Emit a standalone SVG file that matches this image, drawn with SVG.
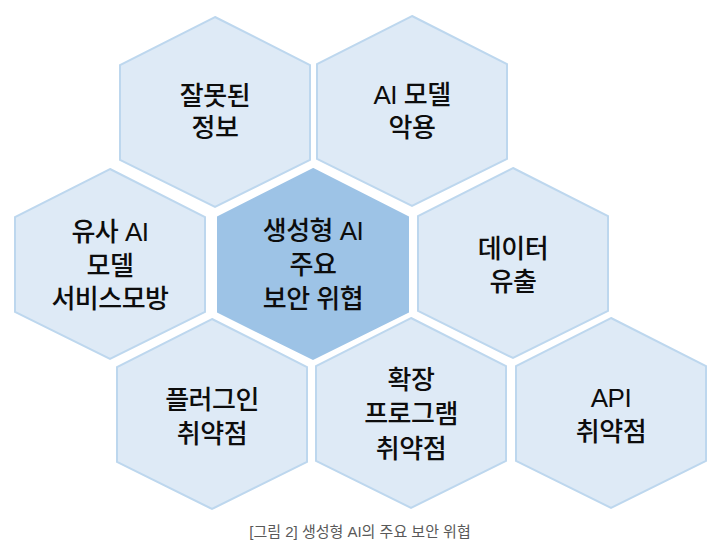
<svg xmlns="http://www.w3.org/2000/svg" xmlns:xlink="http://www.w3.org/1999/xlink" width="717" height="551" viewBox="0 0 717 551">
  <style>
    .hex { fill: #DEEAF6; stroke: #BDD7EE; stroke-width: 2; }
    .hex.core { fill: #9DC3E6; stroke: #9DC3E6; }
    .lbl { font-family: "Liberation Sans", "Noto Sans CJK KR", sans-serif; font-size: 26px; font-weight: 500; fill: #0D0D0D; text-anchor: middle; letter-spacing: -0.5px; }
    .cap { font-family: "Liberation Sans", "Noto Sans CJK KR", sans-serif; font-size: 15px; fill: #595959; text-anchor: middle; }
  </style>
  <defs>
    <polygon id="hexshape" points="0,-95 95,-47 95,48 0,95 -95,48 -95,-47"/>
  </defs>
  <rect width="717" height="551" fill="#FFFFFF"/>

  <g id="node-misinfo">
    <use xlink:href="#hexshape" href="#hexshape" class="hex" x="215" y="112"/>
    <text class="lbl"><tspan x="215" y="105">잘못된</tspan><tspan x="215" y="137">정보</tspan></text>
  </g>
  <g id="node-model-abuse">
    <use xlink:href="#hexshape" href="#hexshape" class="hex" x="412" y="111"/>
    <text class="lbl"><tspan x="412" y="104">AI 모델</tspan><tspan x="412" y="137">악용</tspan></text>
  </g>
  <g id="node-impersonation">
    <use xlink:href="#hexshape" href="#hexshape" class="hex" x="110" y="264"/>
    <text class="lbl"><tspan x="110" y="241">유사 AI</tspan><tspan x="110" y="275">모델</tspan><tspan x="110" y="308">서비스모방</tspan></text>
  </g>
  <g id="node-core">
    <use xlink:href="#hexshape" href="#hexshape" class="hex core" x="313" y="264"/>
    <text class="lbl"><tspan x="313" y="240">생성형 AI</tspan><tspan x="313" y="274">주요</tspan><tspan x="313" y="308">보안 위협</tspan></text>
  </g>
  <g id="node-data-leak">
    <use xlink:href="#hexshape" href="#hexshape" class="hex" x="513" y="263"/>
    <text class="lbl"><tspan x="513" y="258">데이터</tspan><tspan x="513" y="291">유출</tspan></text>
  </g>
  <g id="node-plugin">
    <use xlink:href="#hexshape" href="#hexshape" class="hex" x="212" y="414"/>
    <text class="lbl"><tspan x="212" y="409">플러그인</tspan><tspan x="212" y="443">취약점</tspan></text>
  </g>
  <g id="node-extension">
    <use xlink:href="#hexshape" href="#hexshape" class="hex" x="411" y="413"/>
    <text class="lbl"><tspan x="411" y="389">확장</tspan><tspan x="411" y="423">프로그램</tspan><tspan x="411" y="458">취약점</tspan></text>
  </g>
  <g id="node-api">
    <use xlink:href="#hexshape" href="#hexshape" class="hex" x="611" y="413"/>
    <text class="lbl"><tspan x="611" y="407">API</tspan><tspan x="611" y="441">취약점</tspan></text>
  </g>
  <g id="connectors"/>
  <g id="caption">
    <text class="cap" x="360" y="537">[그림 2] 생성형 AI의 주요 보안 위협</text>
  </g>
</svg>
